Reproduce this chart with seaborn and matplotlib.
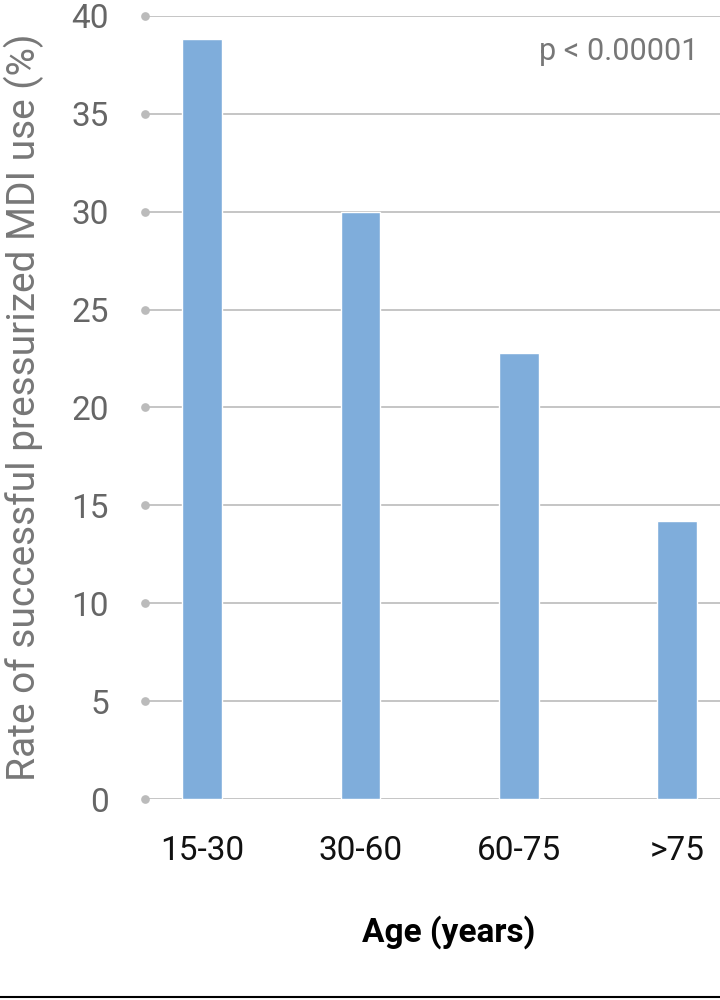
import matplotlib.pyplot as plt
import seaborn as sns
import pandas as pd

age_groups = ["15-30", "30-60", "60-75", ">75"]
success_rate = [38.8, 30.0, 22.8, 14.2]
y_ticks = [0, 5, 10, 15, 20, 25, 30, 35, 40]

sns.set_theme(style="white")
plt.rcParams["font.family"] = ["Roboto", "DejaVu Sans"]

df = pd.DataFrame({"age": age_groups, "rate": success_rate})

fig = plt.figure(figsize=(7.2, 10), dpi=100)
ax = fig.add_axes([0.2014, 0.201, 0.7986, 0.783])

sns.barplot(data=df, x="age", y="rate", color="#7faddb", width=0.25,
            saturation=1, ax=ax, zorder=2)

ax.set_ylim(0, 40)
ax.set_xlim(-0.36, 3.27)
ax.set_yticks(y_ticks)
ax.yaxis.grid(True, color="#bbbbbb", linewidth=1.2, zorder=0)
ax.set_axisbelow(True)
for s in ax.spines.values():
    s.set_visible(False)

ax.tick_params(axis="y", labelsize=24, labelcolor="#666666", pad=20, left=True,
               color="#bbbbbb")
ax.tick_params(axis="x", labelsize=24, labelcolor="#111111", pad=20, bottom=False)

# round dots at the left end of each gridline
for t in ax.yaxis.get_major_ticks():
    t.tick1line.set_marker("o")
    t.tick1line.set_markersize(5)
    t.tick1line.set_markerfacecolor("#bbbbbb")
    t.tick1line.set_markeredgecolor("#bbbbbb")

ax.set_ylabel("Rate of successful pressurized MDI use (%)", fontsize=28,
              color="#777777")
ax.yaxis.set_label_coords(-0.176, 0.5)
ax.set_xlabel("Age (years)", fontsize=24, fontweight="bold", color="#000000")
ax.xaxis.set_label_coords(0.529, -0.148)

ax.text(0.962, 0.955, "p < 0.00001", transform=ax.transAxes, ha="right",
        va="center", fontsize=22, color="#777777")

fig.add_artist(plt.Line2D([0, 1], [0.0035, 0.0035], color="black",
                          linewidth=1.5, transform=fig.transFigure))

fig.savefig("out.png", dpi=100)
